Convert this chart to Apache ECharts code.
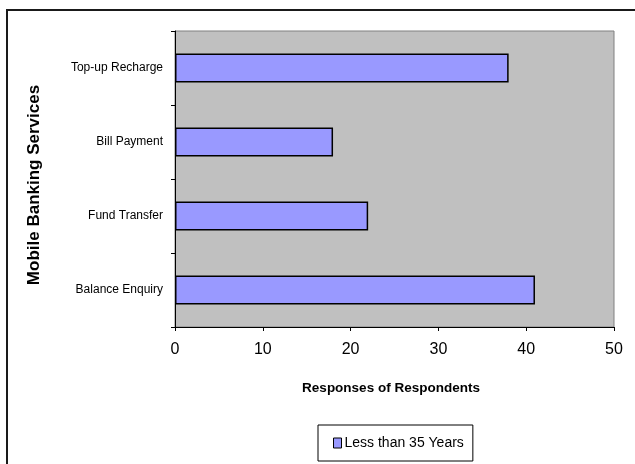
<!DOCTYPE html>
<html>
<head>
<meta charset="utf-8">
<script src="https://cdn.jsdelivr.net/npm/echarts@6/dist/echarts.min.js"></script>
<style>
  html, body { margin: 0; padding: 0; background: #fff; }
  #chart { width: 635px; height: 464px; }
</style>
</head>
<body>
<div id="chart"></div>
<script>
// Mobile banking services used by respondents under 35
const categories = ['Top-up Recharge', 'Bill Payment', 'Fund Transfer', 'Balance Enquiry'];
const responses = [38, 18, 22, 41];
const seriesName = 'Less than 35 Years';
const xTicks = { min: 0, max: 50, interval: 10 };

const FONT = '"Liberation Sans", Arial, sans-serif';

const chart = echarts.init(document.getElementById('chart'), null, { renderer: 'canvas' });

chart.setOption({
  animation: false,
  backgroundColor: '#ffffff',
  graphic: [
    {
      type: 'rect',
      z: -10,
      shape: { x: 7, y: 10, width: 640, height: 470 },
      style: { fill: 'none', stroke: '#1a1a1a', lineWidth: 2 }
    }
  ],
  grid: {
    left: 175, top: 31, right: 21, bottom: 137,
    show: true,
    backgroundColor: '#c0c0c0',
    borderColor: '#808080',
    borderWidth: 1
  },
  legend: {
    left: 318, top: 425,
    padding: [11, 9, 11, 15],
    borderColor: '#000', borderWidth: 1,
    icon: 'rect', itemWidth: 8, itemHeight: 10, itemGap: 2,
    textStyle: { fontFamily: FONT, fontSize: 14, color: '#000', padding: [0, 0, 0, -2] },
    data: [{ name: seriesName, itemStyle: { color: '#9999ff', borderColor: '#000', borderWidth: 1 } }]
  },
  xAxis: {
    type: 'value',
    min: xTicks.min, max: xTicks.max, interval: xTicks.interval,
    name: 'Responses of Respondents',
    nameLocation: 'middle',
    nameGap: 54,
    nameTextStyle: { fontFamily: FONT, fontSize: 13.5, fontWeight: 'bold', color: '#000', padding: [0, 7, 0, 0] },
    axisLine: { show: true, lineStyle: { color: '#000', width: 1 } },
    axisTick: { show: true, length: 4, lineStyle: { color: '#000' } },
    axisLabel: { margin: 15, fontFamily: FONT, fontSize: 16, color: '#000' },
    splitLine: { show: false }
  },
  yAxis: {
    type: 'category',
    inverse: true,
    data: categories,
    name: 'Mobile Banking Services',
    nameLocation: 'middle',
    nameGap: 132,
    nameRotate: 90,
    nameTextStyle: { fontFamily: FONT, fontSize: 17, fontWeight: 'bold', color: '#000', padding: [0, 12, 0, 0] },
    axisLine: { show: true, lineStyle: { color: '#000', width: 1 } },
    axisTick: { show: true, length: 4, lineStyle: { color: '#000' } },
    axisLabel: { margin: 12, fontFamily: FONT, fontSize: 12, color: '#000' },
    splitLine: { show: false }
  },
  series: [
    {
      name: seriesName,
      type: 'bar',
      data: responses,
      barWidth: 29,
      itemStyle: { color: '#9999ff', borderColor: '#000', borderWidth: 1.5 }
    }
  ]
});
</script>
</body>
</html>
